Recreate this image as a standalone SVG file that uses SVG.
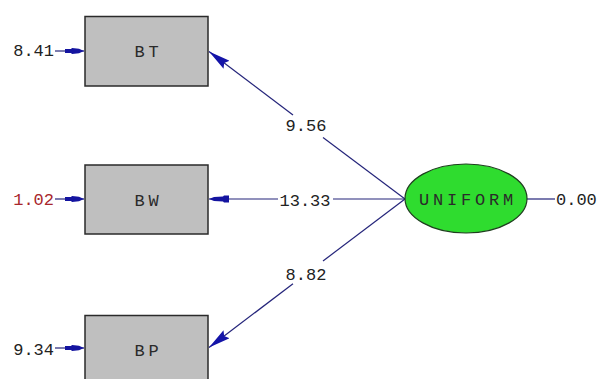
<svg xmlns="http://www.w3.org/2000/svg" width="598" height="379" viewBox="0 0 598 379">
  <style>
    .box{fill:#bfbfbf;stroke:#2a2a2a;stroke-width:1.5}
    .lat{fill:#2fdc2f;stroke:#1f3f1f;stroke-width:1.2}
    .lbl{font-family:"Liberation Mono","DejaVu Sans Mono",monospace;font-size:17px;fill:#2a2a2a}
    .nm{letter-spacing:3.8px}
    .num{font-family:"Liberation Mono","DejaVu Sans Mono",monospace;font-size:17px;fill:#222}
    .red{fill:#a8262c}
    .ln{stroke:#24247a;stroke-width:1.2;fill:none}
  </style>
  <defs>
    <marker id="tri" markerUnits="userSpaceOnUse" viewBox="0 0 22 10" refX="22" refY="5" markerWidth="22" markerHeight="10" orient="auto">
      <path d="M0,0 L22,5 L0,10 L3,5 z" fill="#1414a8"/>
    </marker>
    <marker id="blk" markerUnits="userSpaceOnUse" viewBox="0 0 20 8" refX="20" refY="4" markerWidth="20" markerHeight="8" orient="auto">
      <path d="M0,0.5 L5,0.5 L6,1.5 L15,2 L20,4 L15,6 L6,6.5 L5,7.5 L0,7.5 z" fill="#1414a0"/>
    </marker>
    <marker id="err" markerUnits="userSpaceOnUse" viewBox="0 0 19 7" refX="19" refY="3.5" markerWidth="19" markerHeight="7" orient="auto">
      <path d="M0,1.5 L6,1.5 L7,0.5 L14,1.2 L19,3.5 L14,5.8 L7,6.5 L6,5.5 L0,5.5 z" fill="#1414a0"/>
    </marker>
  </defs>
  <rect width="598" height="379" fill="#ffffff"/>

  <g id="connectors">
    <path class="ln" d="M405,199 L323,137.4"/>
    <path class="ln" d="M293,114.9 L209,51.5" marker-end="url(#tri)"/>
    <path class="ln" d="M405,199 L333,199"/>
    <path class="ln" d="M278,199 L209,199" marker-end="url(#blk)"/>
    <path class="ln" d="M405,199 L323,261"/>
    <path class="ln" d="M293,283.8 L209,347.5" marker-end="url(#tri)"/>
    <path class="ln" d="M55,51 L84,51" marker-end="url(#err)"/>
    <path class="ln" d="M55,199 L84,199" marker-end="url(#err)"/>
    <path class="ln" d="M55,348 L84,348" marker-end="url(#err)"/>
    <path class="ln" d="M527,199 L555,199"/>
    <text class="num" x="306" y="131" text-anchor="middle">9.56</text>
    <text class="num" x="305" y="206" text-anchor="middle">13.33</text>
    <text class="num" x="306" y="280" text-anchor="middle">8.82</text>
    <text class="num" x="54" y="56" text-anchor="end">8.41</text>
    <text class="num red" x="54" y="205" text-anchor="end">1.02</text>
    <text class="num" x="54" y="355" text-anchor="end">9.34</text>
    <text class="num" x="556" y="205">0.00</text>
  </g>

  <g id="BT">
    <rect class="box" x="85" y="16.5" width="123" height="69.5"/>
    <text class="lbl nm" x="148.5" y="57" text-anchor="middle">BT</text>
  </g>
  <g id="BW">
    <rect class="box" x="85" y="165" width="123" height="69"/>
    <text class="lbl nm" x="148.5" y="206" text-anchor="middle">BW</text>
  </g>
  <g id="BP">
    <rect class="box" x="85" y="315.5" width="123" height="75"/>
    <text class="lbl nm" x="148.5" y="356" text-anchor="middle">BP</text>
  </g>
  <g id="UNIFORM">
    <ellipse class="lat" cx="466" cy="198.5" rx="61" ry="34.5"/>
    <text class="lbl nm" x="468" y="205" text-anchor="middle">UNIFORM</text>
  </g>
</svg>
